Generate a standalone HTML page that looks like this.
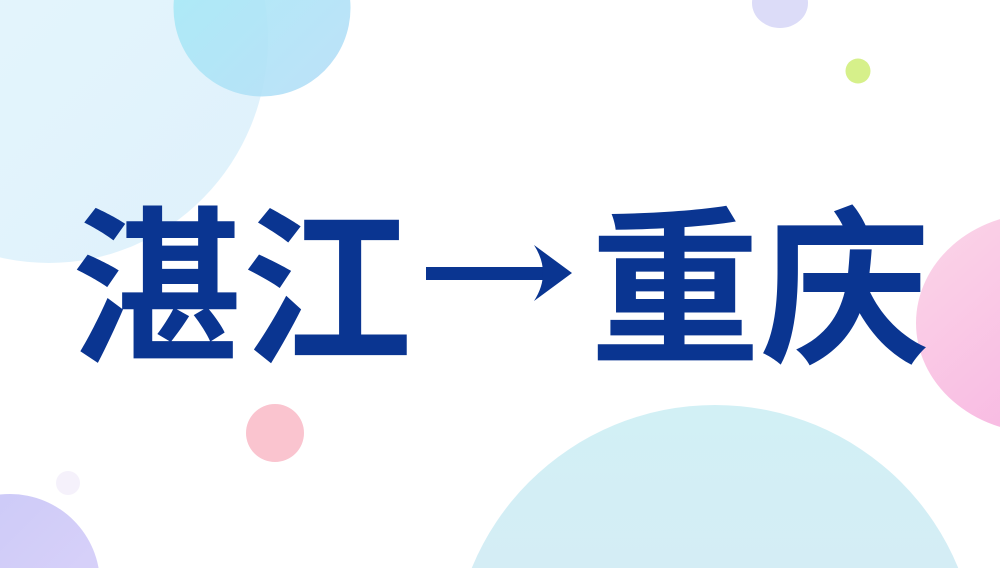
<!DOCTYPE html>
<html><head><meta charset="utf-8"><style>
html,body{margin:0;padding:0;width:1000px;height:568px;overflow:hidden}
body{background:#fff}
#w{position:relative;width:1000px;height:568px;overflow:hidden}
.t{position:absolute;top:192px;height:200px;font-family:"Liberation Sans","Noto Sans CJK SC",sans-serif;font-weight:bold;font-size:170px;line-height:200px;color:#0a3591;white-space:nowrap}
</style></head><body><div id="w">
<svg style="position:absolute;left:0;top:0;display:block" width="1000" height="568" viewBox="0 0 1000 568">
<defs>
<linearGradient id="g1" x1="0" y1="0" x2="1" y2="1"><stop offset="0" stop-color="#e6f7fd"/><stop offset="1" stop-color="#dff1fb"/></linearGradient>
<linearGradient id="g2" x1="0" y1="0" x2="1" y2="1"><stop offset="0" stop-color="#a4ecf6"/><stop offset="1" stop-color="#b6ddf7"/></linearGradient>
<linearGradient id="g3" x1="0" y1="0" x2="1" y2="1"><stop offset="0" stop-color="#fbd6e8"/><stop offset="1" stop-color="#f7aee0"/></linearGradient>
<linearGradient id="g4" x1="0" y1="0" x2="1" y2="1"><stop offset="0" stop-color="#c9c8f7"/><stop offset="1" stop-color="#ddd4fa"/></linearGradient>
<linearGradient id="g5" x1="0" y1="0" x2="0" y2="1"><stop offset="0" stop-color="#d2f0f5"/><stop offset="1" stop-color="#d8e6f5"/></linearGradient>
</defs>
<ellipse cx="49" cy="39" rx="219" ry="224" fill="url(#g1)"/>
<circle cx="262" cy="8" r="88.5" fill="url(#g2)" opacity=".9"/>
<ellipse cx="780" cy="3" rx="28" ry="25" fill="#dcdcf8"/>
<circle cx="858" cy="71" r="12.5" fill="#d6f08a"/>
<ellipse cx="1041" cy="323" rx="125" ry="110" fill="url(#g3)"/>
<circle cx="275" cy="433" r="29" fill="#fac4cf"/>
<circle cx="68" cy="483" r="12" fill="#f5f1fb"/>
<circle cx="10" cy="584" r="90" fill="url(#g4)"/>
<circle cx="715" cy="668" r="263" fill="url(#g5)"/>
<rect x="426" y="267" width="125" height="13" fill="#0a3591"/>
<path d="M534 245 L572 273 L534 301 Q552 273 534 245 Z" fill="#0a3591"/>
</svg>
<div class="t" style="left:72px">湛江</div>
<div class="t" style="left:590px">重庆</div>
</div></body></html>
